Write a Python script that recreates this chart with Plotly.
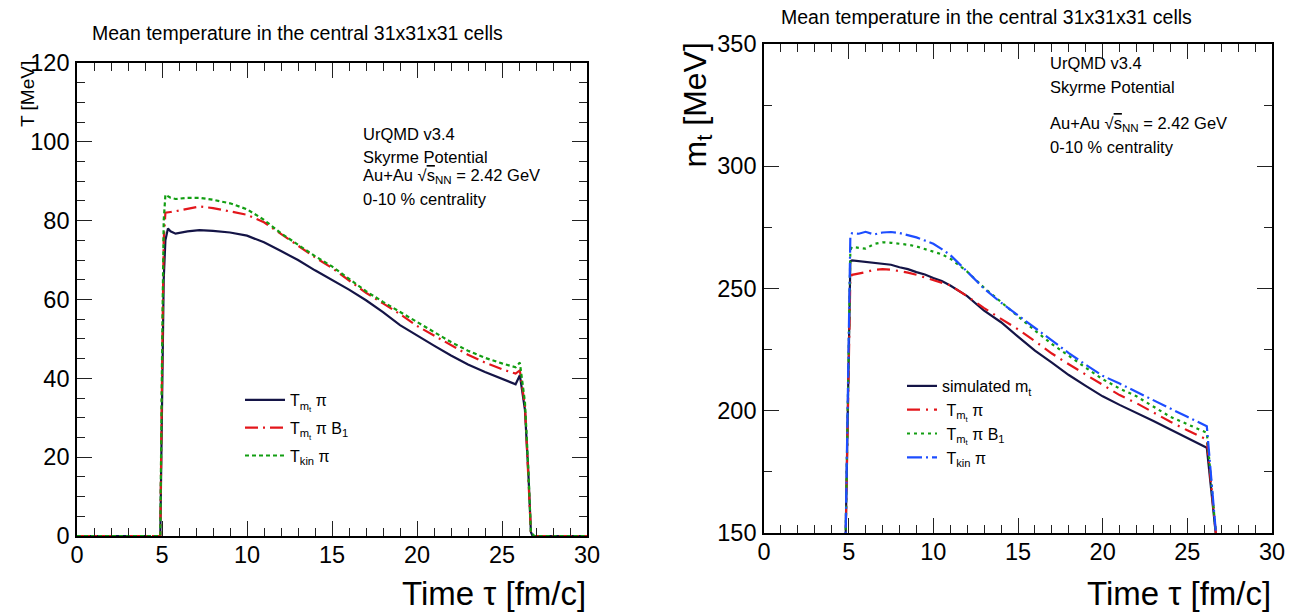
import plotly.graph_objects as go

# ---- Left panel: mean temperature T [MeV] vs time ----
t_left = [0, 4.3, 4.47, 4.7, 4.9, 5.0, 5.1, 5.2, 5.35, 5.5, 5.8, 6.5, 7.2, 8, 9, 10, 11, 12,
          13, 14, 15, 16, 17, 18, 19, 20, 21, 22, 23, 24, 25, 25.8, 26.05, 26.35, 26.55,
          26.7, 26.9, 27.05, 27.25, 30]
T_mt_pi = [0, 0, -3, 0, 0, 30, 65, 75, 78, 77.3, 76.7, 77.3, 77.6, 77.4, 77.0, 76.2, 74.5, 72.3,
           70.0, 67.4, 65.0, 62.5, 59.8, 56.8, 53.5, 50.8, 48.3, 45.8, 43.5, 41.6, 39.9, 38.5, 40.8,
           32, 16, 1, -1, -3.5, 0, 0]
T_mt_pi_B1 = [0, 0, 0, 0, 0, 40, 75, 82, 82.2, 82.2, 82.4, 83.0, 83.6, 83.2, 82.4, 81.5, 79.6, 76.6,
              73.5, 70.7, 68.0, 64.8, 61.7, 59.0, 56.3, 53.3, 50.8, 48.3, 46.0, 44.0, 42.3, 41.2, 42.0,
              33, 16.5, 1, 0, 0, 0, 0]
T_kin_pi = [0, 0, 0, 0, 0, 45, 80, 86.6, 86.2, 85.8, 85.5, 85.8, 85.8, 85.3, 84.4, 82.9, 80.2, 76.8,
            73.9, 71.0, 68.4, 65.2, 62.1, 59.4, 56.8, 54.2, 51.7, 49.2, 47.0, 45.2, 43.8, 42.8, 44.0,
            34, 17, 1, 0, 0, 0, 0]

# ---- Right panel: transverse mass m_t [MeV] vs time ----
t_right = [0, 4.6, 4.8, 5.1, 5.2, 5.6, 6.0, 6.5, 7.0, 7.5, 8.0, 8.5, 9.0, 9.5, 10, 10.5, 11, 12, 13,
           14, 15, 16, 17, 18, 19, 20, 21, 22, 23, 24, 25, 26, 26.15, 26.75, 27.0, 30]
mt_sim = [0, 0, 140, 261.2, 261.5, 261.2, 261.1, 260.7, 260.2, 259.7, 258.7, 257.9, 256.7, 255.7,
          254.3, 253.1, 251.2, 246.9, 240.9, 236.2, 230.3, 224.6, 219.7, 214.6, 210.2, 205.9, 202.4,
          199.2, 195.8, 192.3, 188.9, 185.5, 184.9, 145, 0, 0]
mt_Tmt_pi = [0, 0, 140, 254.7, 255.6, 256.0, 256.7, 257.6, 257.9, 257.7, 257.2, 256.5, 255.6, 254.5,
             253.7, 252.5, 251.3, 246.8, 242.0, 237.6, 233.3, 228.5, 223.4, 219.0, 214.8, 210.3,
             206.4, 203.1, 199.2, 195.5, 192.0, 188.7, 188.2, 145, 0, 0]
mt_Tmt_pi_B1 = [0, 0, 140, 265.7, 267.0, 266.5, 266.3, 268.2, 268.9, 268.7, 268.4, 267.9, 267.2,
                266.1, 265.1, 264.0, 262.2, 256.9, 250.3, 244.4, 238.4, 232.8, 227.3, 222.3, 217.6,
                212.9, 209.1, 205.9, 201.7, 197.5, 194.5, 191.4, 191.0, 145, 0, 0]
mt_Tkin_pi = [0, 0, 140, 271.9, 272.6, 272.4, 273.2, 272.1, 272.9, 273.1, 272.7, 271.9, 270.9,
              269.6, 268.3, 266.1, 263.7, 256.9, 249.9, 244.2, 239.0, 233.7, 228.5, 223.6, 218.8,
              214.3, 211.1, 207.8, 204.3, 200.9, 197.5, 194.1, 193.7, 145, 0, 0]

FONT = "Liberation Sans, Arial, Helvetica, sans-serif"
NAVY = "#141446"
RED = "#e3161b"
GREEN = "#129e12"
BLUE = "#1d4dff"

fig = go.Figure()

# left panel curves
fig.add_trace(go.Scatter(x=t_left, y=T_mt_pi, mode="lines", name="T<sub>m<sub>t</sub></sub> π",
                         line=dict(color=NAVY, width=2.2), xaxis="x", yaxis="y",
                         legend="legend", legendgroup="a1"))
fig.add_trace(go.Scatter(x=t_left, y=T_mt_pi_B1, mode="lines", name="T<sub>m<sub>t</sub></sub> π B<sub>1</sub>",
                         line=dict(color=RED, width=2.2, dash="13px,5px,2px,5px"), xaxis="x", yaxis="y",
                         legend="legend", legendgroup="a2"))
fig.add_trace(go.Scatter(x=t_left, y=T_kin_pi, mode="lines", name="T<sub>kin</sub> π",
                         line=dict(color=GREEN, width=2.2, dash="4px,3px"), xaxis="x", yaxis="y",
                         legend="legend", legendgroup="a3"))

# right panel curves
fig.add_trace(go.Scatter(x=t_right, y=mt_sim, mode="lines", name="simulated m<sub>t</sub>",
                         line=dict(color=NAVY, width=2.2), xaxis="x2", yaxis="y2",
                         legend="legend2", legendgroup="b1"))
fig.add_trace(go.Scatter(x=t_right, y=mt_Tmt_pi, mode="lines", name="\u00a0T<sub>m<sub>t</sub></sub> π",
                         line=dict(color=RED, width=2.2, dash="13px,6px,2px,6px"), xaxis="x2", yaxis="y2",
                         legend="legend2", legendgroup="b2"))
fig.add_trace(go.Scatter(x=t_right, y=mt_Tmt_pi_B1, mode="lines",
                         name="\u00a0T<sub>m<sub>t</sub></sub> π B<sub>1</sub>",
                         line=dict(color=GREEN, width=2.2, dash="3px,4px"), xaxis="x2", yaxis="y2",
                         legend="legend2", legendgroup="b3"))
fig.add_trace(go.Scatter(x=t_right, y=mt_Tkin_pi, mode="lines", name="\u00a0T<sub>kin</sub> π",
                         line=dict(color=BLUE, width=2.2, dash="15px,4px,2px,4px"), xaxis="x2", yaxis="y2",
                         legend="legend2", legendgroup="b4"))

W, H = 1306, 616


def px(x):
    return x / W


def py(y):
    return 1 - y / H


def axis_common(dtick, minor_dtick, rng, domain, anchor):
    return dict(
        domain=domain, range=rng, anchor=anchor, autorange=False, automargin=False,
        showline=True, linecolor="black", linewidth=1.6, mirror="allticks",
        ticks="inside", ticklen=15, tickwidth=1.2, tickcolor="#222",
        dtick=dtick, tick0=0,
        minor=dict(ticks="inside", dtick=minor_dtick, ticklen=8, tickwidth=1.2, tickcolor="#222"),
        showgrid=False, zeroline=False,
        tickfont=dict(family=FONT, size=23.5, color="black"),
        fixedrange=True,
    )


xl = axis_common(5, 1, [0, 30], [px(77), px(587)], "y")
yl = axis_common(20, 5, [0, 120], [py(536), py(63)], "x")
xr = axis_common(5, 1, [0, 30], [px(764), px(1272)], "y2")
yr = axis_common(50, 25, [150, 350], [py(533), py(44)], "x2")
for ax in (xl, xr):
    ax["ticklabelstandoff"] = -3
for ax in (yl, yr):
    ax["ticklabelstandoff"] = 1

annots = []


def text(x, y, s, size, xanchor="left", yanchor="middle", angle=0):
    annots.append(dict(x=px(x), y=py(y), xref="paper", yref="paper", text=s, showarrow=False,
                       xanchor=xanchor, yanchor=yanchor, textangle=angle,
                       font=dict(family=FONT, size=size, color="black")))


title = "Mean temperature in the central 31x31x31 cells"
text(90, 33, title, 19.5)
text(779, 17, title, 19.5)

rts = "Au+Au √<span style='text-decoration:overline'>s</span><sub>NN</sub> = 2.42 GeV"
# left panel labels
text(361, 134, "UrQMD v3.4", 16.5)
text(361, 157, "Skyrme Potential", 16.5)
text(361, 176, rts, 16.5)
text(361, 199, "0-10 % centrality", 16.5)
# right panel labels
text(1048, 63, "UrQMD v3.4", 16.5)
text(1048, 87, "Skyrme Potential", 16.5)
text(1048, 124, rts, 16.5)
text(1048, 147, "0-10 % centrality", 16.5)

# axis titles
text(588, 593, "Time τ [fm/c]", 33, xanchor="right")
text(1273, 593, "Time τ [fm/c]", 33, xanchor="right")
text(28, 59, "T [MeV]", 19, xanchor="center", yanchor="top", angle=-90)
text(697, 40, "m<sub>t</sub> [MeV]", 32, xanchor="center", yanchor="top", angle=-90)

fig.update_layout(
    template="none",
    width=W, height=H, autosize=False,
    margin=dict(l=0, r=0, t=0, b=0, pad=0, autoexpand=False),
    paper_bgcolor="white", plot_bgcolor="white",
    xaxis=xl, yaxis=yl, xaxis2=xr, yaxis2=yr,
    annotations=annots,
    showlegend=True,
    legend=dict(x=px(240), y=py(383), xanchor="left", yanchor="top",
                bgcolor="rgba(0,0,0,0)", borderwidth=0, itemwidth=40, tracegroupgap=4,
                font=dict(family=FONT, size=16, color="black")),
    legend2=dict(x=px(902), y=py(369), xanchor="left", yanchor="top",
                 bgcolor="rgba(0,0,0,0)", borderwidth=0, itemwidth=30, tracegroupgap=0,
                 font=dict(family=FONT, size=16, color="black")),
    hovermode=False,
)

fig.write_html("out.html", config={"displayModeBar": False})
